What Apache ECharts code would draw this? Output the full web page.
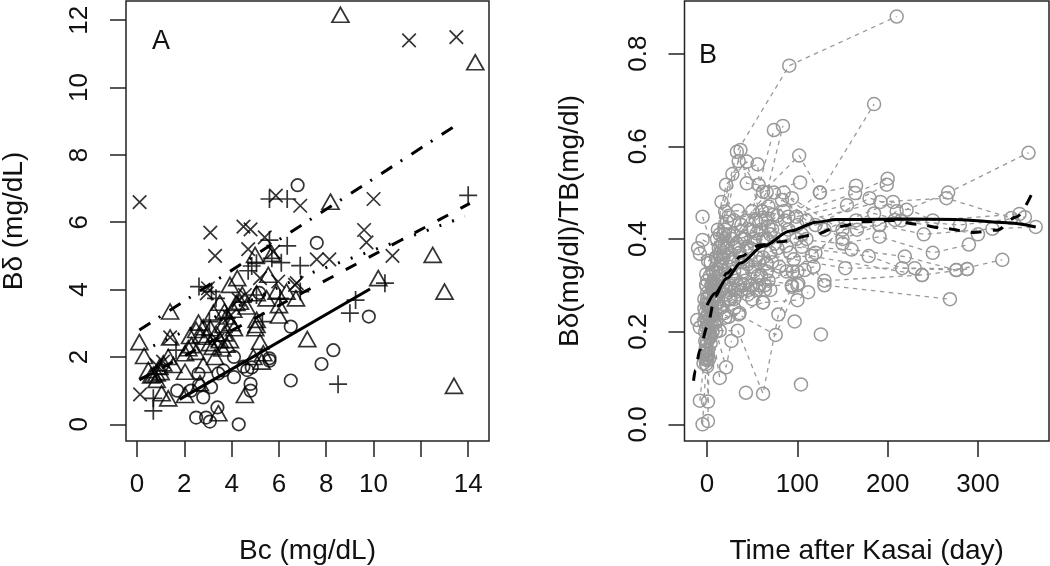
<!DOCTYPE html>
<html><head><meta charset="utf-8">
<style>html,body{margin:0;padding:0;background:#fff}#c{width:1050px;height:566px}</style>
<script src="https://cdn.jsdelivr.net/npm/echarts@6/dist/echarts.min.js"></script>
</head><body><div id="c"></div>
<script>
const crossPts=[[0.11,6.6],[11.5,11.4],[13.5,11.5],[5.87,6.79],[6.9,6.49],[10,6.69],[3.1,5.69],[3.3,5],[4.5,5.87],[4.8,5.79],[4.7,5.2],[5.4,5.55],[5.76,5.13],[7.6,4.9],[8.13,4.9],[9.6,5.77],[9.7,5.4],[10.8,5],[6.68,4.14],[5.97,4.24],[3,4.04],[0.13,0.89],[1.4,2.58],[4.3,3.7],[4.56,3.84],[6.75,4.19],[2.95,3.89],[5.2,4.34],[0.83,1.76],[1.1,1.86],[3.4,2.5],[3.9,3.2]];
const plusPts=[[5.6,6.69],[6.35,6.69],[14,6.8],[5.6,5.47],[6.35,5.3],[6.1,4.8],[6.9,4.71],[5.7,4.93],[5.05,4.78],[4.7,4.56],[4.85,4.7],[2.62,4.09],[3.15,3.94],[3.34,3.74],[10.48,4.19],[9.24,3.69],[9,3.3],[8.5,1.19],[0.69,0.4],[0.69,0.77],[1.65,2.2],[3.06,3.05],[5.3,3.05],[6.9,3.94],[6.04,3.74],[0.83,1.5],[5.05,3.84],[3.8,3.15]];
const circlePts=[[6.79,7.1],[7.6,5.39],[5.17,3.9],[6.5,2.9],[9.8,3.2],[8.3,2.2],[7.8,1.79],[6.5,1.3],[5.6,1.96],[5.6,1.89],[4.1,2],[4.1,1.4],[3.44,1.51],[3.65,1.6],[2.6,1.5],[1.7,1],[2.28,1],[3.13,1.1],[2.8,0.8],[4.8,1.2],[4.8,1],[4.66,1.61],[4.85,1.69],[4.5,1.71],[2.5,0.2],[2.92,0.2],[3.08,0.08],[3.4,0.5],[4.3,0],[2.62,1.17]];
const trianglePts=[[8.6,12.16],[14.3,10.75],[8.18,6.61],[12.5,5.03],[4.99,5.03],[5.7,5.06],[5.55,4.44],[10.2,4.34],[4.24,4.34],[13,3.94],[7.2,2.53],[13.4,1.14],[1.4,3.35],[0.1,2.44],[0.3,2.03],[3.93,4.14],[3.5,3.61],[3.23,3.32],[2.6,3.02],[2.8,2.88],[2.24,2.62],[2.17,2.26],[2.03,2.11],[2.94,2.6],[3.08,2.41],[3.5,2.5],[3.79,2.36],[3.93,2.5],[3.65,2.95],[3.79,3.2],[4.07,3.4],[4.35,3.64],[4.63,3.5],[5.06,3.89],[5.48,3.74],[5.9,3.94],[6.32,3.94],[6.72,3.74],[6,3.54],[6,3.23],[5.06,3.1],[5,2.85],[5.2,2.45],[5.34,2.11],[5.27,1.86],[4.92,2],[3.3,2],[2.8,1.76],[2.03,1.56],[1.11,1.81],[1.32,2],[1.54,1.76],[0.48,1.61],[0.83,1.51],[0.69,1.47],[0.83,1.32],[1.04,0.92],[1.32,0.77],[2.03,0.87],[2.66,1.22],[4.56,0.87],[3.44,0.33],[1.4,2.58],[2.3,2.35],[2.5,2.15],[3.1,2.85],[3.35,2.7],[3.6,2.25],[3.7,2.7],[3.2,2.3],[4,3],[4.1,2.85],[3.7,3.35],[4.45,3.85],[4.2,3.6],[5.05,2.95],[0.95,1.7],[0.6,1.45],[1,1.55],[2.5,2.8],[2.7,2.65]];
const solidFitX=[1.8,9.85], solidFitY=[0.74,4.02];
const upperFitX=[0.1,13.58], upperFitY=[2.8,8.92];
const lowerFitX=[0.1,14.07], lowerFitY=[1.32,6.56];
const dottedFitX=[0.69,7,13.86], dottedFitY=[2.33,4.4,6.17];
const xTicksA=[0,2,4,6,8,10,12,14], xLabelsA=[0,2,4,6,8,10,14], yTicksA=[0,2,4,6,8,10,12];
const xTicksB=[0,100,200,300], yTicksB=[0,0.2,0.4,0.6,0.8];
const trajectories=[
[[-3,.27],[12,.42],[33,.588],[91,.774],[210,.88]],
[[-2,.24],[15,.36],[62,.4],[125,.5],[185,.691]],
[[0,.22],[22,.38],[50,.46],[74,.635]],
[[2,.25],[28,.4],[66,.5],[84,.644]],
[[-1,.3],[30,.44],[102,.58],[125,.5],[165,.515]],
[[3,.28],[37,.592],[44,.52],[57,.517]],
[[-2,.2],[16,.48],[35,.568],[62,.502],[103,.522]],
[[0,.31],[21,.517],[44,.567],[60,.44],[99,.448],[155,.473],[199,.517]],
[[1,.26],[28,.54],[56,.561],[61,.46],[90,.448],[164,.499],[200,.53]],
[[-5,.448],[10,.36],[20,.459],[34,.461],[73,.452],[120,.43],[180,.488],[221,.463],[267,.5],[356,.586]],
[[-5,.398],[13,.38],[38,.416],[74,.5],[110,.44],[192,.48],[265,.488],[337,.445]],
[[-10,.38],[5,.3],[25,.408],[85,.5],[130,.42],[206,.48],[250,.44],[346,.454]],
[[-8,.368],[16,.35],[55,.412],[94,.488],[140,.43],[166,.42],[208,.441],[280,.43],[352,.447]],
[[1,.353],[18,.358],[44,.383],[83,.484],[150,.4],[191,.43],[240,.41],[316,.422],[364,.426]],
[[-1,.324],[22,.437],[61,.46],[99,.4],[150,.39],[191,.405],[250,.37],[290,.388]],
[[-1,.3],[31,.38],[68,.427],[105,.383],[160,.377],[219,.362],[276,.333]],
[[0,.283],[20,.33],[66,.347],[88,.385],[179,.363],[216,.337],[276,.333],[327,.355]],
[[4,.23],[25,.3],[96,.356],[153,.337],[230,.337],[288,.335]],
[[-3,.25],[24,.29],[62,.36],[116,.363],[238,.322],[288,.335]],
[[0,.18],[14,.25],[50,.3],[118,.34],[130,.3],[269,.27]],
[[-11,.225],[10,.3],[40,.35],[88,.33],[108,.333],[130,.31],[238,.322]],
[[-8,.209],[12,.27],[34,.3],[62,.263],[100,.268],[112,.285]],
[[0,.139],[20,.23],[35,.237],[76,.193],[101,.304]],
[[-4,.132],[14,.202],[34,.202],[62,.066],[79,.237],[94,.297]],
[[-8,.051],[-2,.16],[5,.25],[24,.232],[62,.263]],
[[1,.049],[0,.15],[8,.22],[21,.3]],
[[-5,0],[-1,.13],[6,.2],[14,.1]],
[[1,.007],[2,.14],[10,.2],[21,.123],[27,.18]],
[[-2,.18],[8,.3],[18,.37],[40,.4],[65,.44],[90,.42],[110,.4]],
[[2,.19],[10,.33],[25,.36],[48,.38],[70,.41],[100,.43]],
[[-1,.21],[7,.27],[15,.34],[30,.33],[55,.36],[78,.38],[105,.41]],
[[1,.16],[6,.24],[20,.28],[32,.31],[52,.33],[72,.35]],
[[0,.145],[5,.21],[12,.31],[28,.35],[45,.345],[68,.31],[100,.3]],
[[-2,.14],[4,.19],[11,.26],[26,.27],[42,.31],[58,.3],[94,.3]],
[[0,.125],[4,.175],[9,.24],[18,.3],[33,.28],[50,.27],[64,.29]],
[[2,.21],[6,.29],[14,.41],[24,.45],[38,.43],[52,.4],[72,.42]],
[[-3,.22],[3,.32],[10,.36],[23,.39],[36,.37],[48,.42],[66,.4],[86,.44]],
[[-1,.26],[4,.35],[11,.4],[20,.42],[33,.39],[44,.44],[60,.42],[78,.45]],
[[1,.235],[5,.3],[13,.32],[25,.34],[38,.36],[52,.39],[75,.39]],
[[-2,.155],[3,.26],[8,.28],[16,.31],[30,.29],[46,.29],[60,.32],[80,.34]],
[[3,.195],[9,.29],[17,.39],[29,.41],[42,.4],[57,.35],[70,.37],[92,.37]],
[[0,.27],[6,.33],[19,.41],[35,.35],[54,.44],[68,.47],[85,.46]],
[[-1,.17],[5,.22],[14,.29],[27,.32],[40,.33],[56,.32],[66,.33],[100,.33]],
[[40,.3],[95,.33],[150,.42],[191,.43],[210,.46]],
[[50,.34],[120,.37],[165,.44],[185,.455],[215,.44],[300,.41]],
[[2,.2],[18,.26],[30,.27],[45,.28],[55,.29],[70,.29]],
[[-1,.23],[24,.27],[38,.29],[48,.3],[64,.3]],
[[1,.15],[10,.22],[19,.24],[30,.25],[36,.24]],
[[43,.068]],[[104,.086]],[[126,.194]],[[97,.222]]
];
const meanSolidX=[0,9,22,37,62,92,121,144,166,221,276,332,364];
const meanSolidY=[.257,.283,.315,.348,.384,.417,.436,.442,.442,.443,.442,.435,.426];
const meanDashX=[-15,-13,-8,0,9,22,37,59,81,118,147,173,206,232,262,295,321,343,362];
const meanDashY=[.094,.117,.16,.21,.276,.326,.362,.387,.394,.409,.427,.437,.44,.432,.423,.414,.419,.448,.508];

const FONT='"Liberation Sans",Arial,sans-serif', TICK=26, TITLE=28;
const zip=(a,b)=>a.map((v,i)=>[v,b[i]]);
const PLUS='path://M0 5H10M5 0V10', CROSS='path://M0 0L10 10M0 10L10 0';
const markStyle={color:'transparent',borderColor:'#000',borderWidth:1.7};
const scat=(data,symbol,size)=>({type:'scatter',xAxisIndex:0,yAxisIndex:0,data,symbol,symbolSize:size,itemStyle:markStyle,silent:true,z:2});
const fit=(x,y,type)=>({type:'line',xAxisIndex:0,yAxisIndex:0,data:zip(x,y),showSymbol:false,symbol:'none',silent:true,z:3,lineStyle:{color:'#000',width:3,type}});
function xAxis(gi,min,max,ticks,labels,name,gap){return {gridIndex:gi,type:'value',min,max,splitLine:{show:false},axisLine:{show:false,onZero:false},
 axisTick:{show:true,length:16,inside:false,customValues:ticks,lineStyle:{color:'#222',width:1.5}},
 axisLabel:{customValues:labels,margin:31,fontFamily:FONT,fontSize:TICK,color:'#111',showMinLabel:true,showMaxLabel:true,hideOverlap:false},
 name,nameLocation:'middle',nameGap:gap,nameTextStyle:{fontFamily:FONT,fontSize:TITLE,color:'#111'}};}
function yAxis(gi,min,max,ticks,name,gap,fmt){return {gridIndex:gi,type:'value',min,max,splitLine:{show:false},axisLine:{show:false,onZero:false},
 axisTick:{show:true,length:16,customValues:ticks,lineStyle:{color:'#222',width:1.5}},
 axisLabel:{customValues:ticks,rotate:90,margin:33,fontFamily:FONT,fontSize:TICK,color:'#111',formatter:fmt,hideOverlap:false},
 name,nameLocation:'middle',nameGap:gap,nameRotate:90,nameTextStyle:{fontFamily:FONT,fontSize:TITLE,color:'#111'}};}
const chart=echarts.init(document.getElementById('c'),null,{renderer:'canvas'});
const seriesB=[];
trajectories.forEach(t=>seriesB.push({type:'line',xAxisIndex:1,yAxisIndex:1,data:t,symbol:'circle',symbolSize:13,showSymbol:true,showAllSymbol:true,silent:true,z:2,
 lineStyle:{color:'#999',width:1.3,type:[4.5,4.5]},itemStyle:{color:'transparent',borderColor:'#999',borderWidth:1.5}}));
seriesB.push({type:'line',xAxisIndex:1,yAxisIndex:1,data:zip(meanSolidX,meanSolidY),smooth:0.3,smoothMonotone:'x',symbol:'none',silent:true,z:4,lineStyle:{color:'#000',width:3}});
seriesB.push({type:'line',xAxisIndex:1,yAxisIndex:1,data:zip(meanDashX,meanDashY),smooth:0.3,smoothMonotone:'x',symbol:'none',silent:true,z:4,lineStyle:{color:'#000',width:3,type:[11,11]}});
chart.setOption({animation:false,backgroundColor:'#fff',
 title:[{text:'A',left:147,top:23,textStyle:{fontFamily:FONT,fontSize:27,fontWeight:'normal',color:'#111'}},
        {text:'B',left:694,top:37,textStyle:{fontFamily:FONT,fontSize:27,fontWeight:'normal',color:'#111'}}],
 grid:[{left:126,top:1,width:363,height:440,outerBoundsMode:'none',show:true,borderColor:'#222',borderWidth:1.5,backgroundColor:'transparent'},
       {left:684.5,top:1,width:364.5,height:440,outerBoundsMode:'none',show:true,borderColor:'#222',borderWidth:1.5,backgroundColor:'transparent'}],
 xAxis:[xAxis(0,-0.465,14.88,xTicksA,xLabelsA,'Bc (mg/dL)',96),xAxis(1,-25,378.7,xTicksB,xTicksB,'Time after Kasai (day)',96)],
 yAxis:[yAxis(0,-0.496,12.57,yTicksA,'Bδ (mg/dL)',98,v=>String(v)),yAxis(1,-0.036,0.9135,yTicksB,'Bδ(mg/dl)/TB(mg/dl)',100,v=>v.toFixed(1))],
 series:[scat(circlePts,'circle',12.5),scat(trianglePts,'triangle',[17,15]),scat(plusPts,PLUS,18),scat(crossPts,CROSS,13.5),
  fit(solidFitX,solidFitY,'solid'),fit(upperFitX,upperFitY,[13,10,2,11]),fit(lowerFitX,lowerFitY,[12,14]),fit(dottedFitX,dottedFitY,[2,11.5]),
  ...seriesB]
});
</script></body></html>
